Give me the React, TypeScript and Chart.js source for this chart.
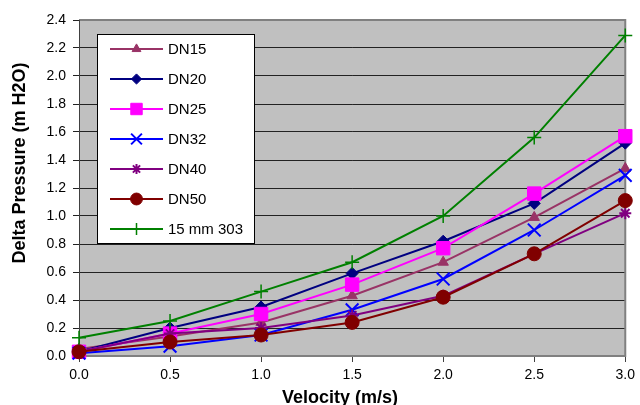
import React, { useEffect, useRef } from "react";
import { Chart, registerables } from "chart.js";
import { drawPoint } from "chart.js/helpers";

Chart.register(...registerables);

const velocities = [0.0, 0.5, 1.0, 1.5, 2.0, 2.5, 3.0];
const seriesNames = ["DN15", "DN20", "DN25", "DN32", "DN40", "DN50", "15 mm 303"];
const dn15 = [0.05, 0.14, 0.24, 0.43, 0.67, 0.99, 1.34];
const dn20 = [0.03, 0.2, 0.35, 0.59, 0.82, 1.09, 1.52];
const dn25 = [0.03, 0.16, 0.3, 0.51, 0.77, 1.16, 1.57];
const dn32 = [0.02, 0.07, 0.15, 0.33, 0.55, 0.9, 1.29];
const dn40 = [0.03, 0.16, 0.2, 0.29, 0.43, 0.73, 1.02];
const dn50 = [0.03, 0.1, 0.15, 0.24, 0.42, 0.73, 1.11];
const mm303 = [0.13, 0.25, 0.46, 0.67, 1.0, 1.56, 2.29];
const yTicks = [0, 0.2, 0.4, 0.6, 0.8, 1.0, 1.2, 1.4, 1.6, 1.8, 2.0, 2.2, 2.4];
const xTicks = [0, 0.5, 1.0, 1.5, 2.0, 2.5, 3.0];

const colors = ["#993366", "#000080", "#FF00FF", "#0000FF", "#800080", "#800000", "#008000"];
const styles = ["triangle", "rectRot", "rect", "crossRot", "star", "circle", "cross"];
const radii = [6, 6, 9.5, 9, 6, 7, 7];
const borderWidths = [1, 1, 1, 2, 2, 1, 1.5];

const FONT = "'Liberation Sans', Arial, sans-serif";

const bgPlugin = {
  id: "plotBg",
  beforeDraw(chart: any) {
    const { ctx, chartArea: a } = chart;
    ctx.save();
    ctx.fillStyle = "#ffffff";
    ctx.fillRect(0, 0, chart.width, chart.height);
    ctx.fillStyle = "#C0C0C0";
    ctx.fillRect(a.left, a.top, a.right - a.left, a.bottom - a.top);
    ctx.restore();
  },
  beforeDatasetsDraw(chart: any) {
    const { ctx, chartArea: a } = chart;
    ctx.save();
    ctx.strokeStyle = "#808080";
    ctx.lineWidth = 2;
    ctx.beginPath();
    ctx.moveTo(a.left, a.top);
    ctx.lineTo(a.right, a.top);
    ctx.lineTo(a.right, a.bottom);
    ctx.lineTo(a.left, a.bottom);
    ctx.stroke();
    ctx.strokeStyle = "#404040";
    ctx.lineWidth = 1;
    ctx.beginPath();
    ctx.moveTo(a.left + 0.5, a.top);
    ctx.lineTo(a.left + 0.5, a.bottom);
    ctx.stroke();
    ctx.restore();
  },
  afterDraw(chart: any) {
    const { ctx } = chart;
    ctx.save();
    ctx.fillStyle = "#000";
    ctx.font = `bold 18px ${FONT}`;
    ctx.textAlign = "center";
    ctx.textBaseline = "alphabetic";
    ctx.fillText("Velocity (m/s)", 340, 403);
    ctx.translate(25, 163);
    ctx.rotate(-Math.PI / 2);
    ctx.fillText("Delta Pressure (m H2O)", 0, 0);
    ctx.restore();

    ctx.save();
    const bx = 97, by = 34, bw = 157, bh = 209;
    ctx.fillStyle = "#ffffff";
    ctx.fillRect(bx, by, bw, bh);
    ctx.strokeStyle = "#000";
    ctx.lineWidth = 1;
    ctx.strokeRect(bx + 0.5, by + 0.5, bw, bh);
    chart.data.datasets.forEach((ds: any, i: number) => {
      const y = 49 + i * 30;
      ctx.strokeStyle = ds.borderColor;
      ctx.lineWidth = ds.borderWidth;
      ctx.beginPath();
      ctx.moveTo(110, y);
      ctx.lineTo(163, y);
      ctx.stroke();
      ctx.fillStyle = ds.pointBackgroundColor;
      ctx.strokeStyle = ds.pointBorderColor;
      ctx.lineWidth = ds.pointBorderWidth;
      drawPoint(ctx, { pointStyle: ds.pointStyle, radius: ds.pointRadius * 0.85, rotation: 0, borderWidth: ds.pointBorderWidth }, 136.5, y);
      ctx.fillStyle = "#000";
      ctx.font = `15px ${FONT}`;
      ctx.textAlign = "left";
      ctx.textBaseline = "middle";
      ctx.fillText(ds.label, 168, y + 1);
    });
    ctx.restore();
  },
};

const allSeries = [dn15, dn20, dn25, dn32, dn40, dn50, mm303];

export default function App() {
  const ref = useRef<HTMLCanvasElement | null>(null);
  useEffect(() => {
    if (!ref.current) return;
    const datasets = allSeries.map((vals, i) => ({
      label: seriesNames[i],
      data: vals.map((v, j) => ({ x: velocities[j], y: v })),
      borderColor: colors[i],
      backgroundColor: colors[i],
      pointBackgroundColor: colors[i],
      pointBorderColor: colors[i],
      pointBorderWidth: borderWidths[i],
      pointStyle: styles[i],
      pointRadius: radii[i],
      borderWidth: 2,
      tension: 0,
      clip: false as any,
      order: allSeries.length - i,
    }));
    const chart = new Chart(ref.current, {
      type: "line",
      data: { datasets },
      options: {
        animation: false,
        responsive: false,
        devicePixelRatio: 1,
        layout: { padding: { left: 0, right: 13, top: 20, bottom: 0 } },
        plugins: { legend: { display: false }, tooltip: { enabled: false } },
        scales: {
          x: {
            type: "linear",
            min: 0,
            max: 3,
            afterFit: (s: any) => { s.height = 49; },
            afterBuildTicks: (s: any) => { s.ticks = xTicks.map((v) => ({ value: v })); },
            ticks: {
              font: { family: FONT, size: 14 },
              color: "#000",
              padding: 5,
              maxRotation: 0,
              callback: (v: any) => Number(v).toFixed(1),
            },
            grid: { drawOnChartArea: false, drawTicks: true, tickLength: 6, color: "#404040" },
            border: { display: false },
          },
          y: {
            type: "linear",
            min: 0,
            max: 2.4,
            afterFit: (s: any) => { s.width = 79; },
            afterBuildTicks: (s: any) => { s.ticks = yTicks.map((v) => ({ value: v })); },
            ticks: {
              font: { family: FONT, size: 14 },
              color: "#000",
              padding: 7,
              callback: (v: any) => Number(v).toFixed(1),
            },
            grid: { color: "#222222", lineWidth: 1, tickLength: 6, drawTicks: true },
            border: { display: false },
          },
        },
      },
      plugins: [bgPlugin],
    });
    return () => chart.destroy();
  }, []);
  return (
    <div style={{ position: "fixed", left: 0, top: 0, width: 640, height: 405, background: "#fff" }}>
      <canvas ref={ref} width={640} height={405} style={{ width: 640, height: 405, display: "block" }} />
    </div>
  );
}
